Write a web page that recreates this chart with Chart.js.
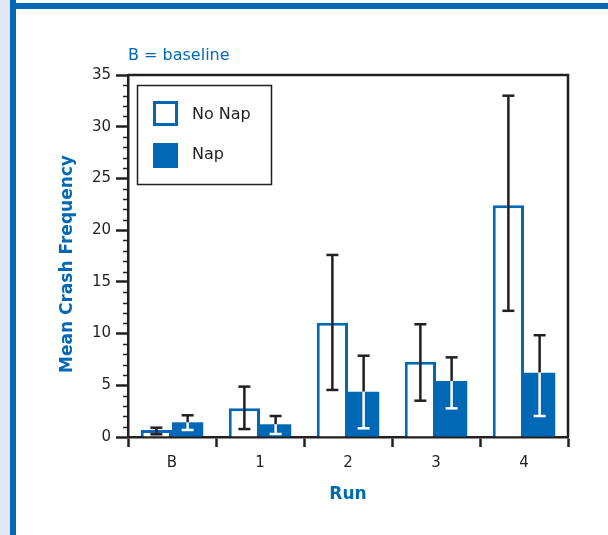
<!DOCTYPE html>
<html>
<head>
<meta charset="utf-8">
<script src="https://cdn.jsdelivr.net/npm/chart.js@4"></script>
<style>
  body { margin: 0; background: #fff; }
  #wrap { width: 608px; height: 535px; }
</style>
</head>
<body>
<div id="wrap"><canvas id="chart" width="608" height="535"></canvas></div>
<script>
// data
const runs = ['B', '1', '2', '3', '4'];
const noNap = [0.68, 2.77, 11.05, 7.28, 22.4];
const noNapLow = [0.26, 0.77, 4.55, 3.51, 12.2];
const noNapHigh = [0.9, 4.87, 17.6, 10.9, 33.0];
const nap = [1.42, 1.23, 4.38, 5.42, 6.22];
const napLow = [0.68, 0.29, 0.84, 2.77, 2.03];
const napHigh = [2.1, 2.03, 7.86, 7.7, 9.84];

const blue = '#0068b5';
const ink = '#231f20';
const font = 'DejaVu Sans';

// frame, error bars, minor ticks, legend box
const extras = {
  id: 'extras',
  beforeDraw(chart) {
    const ctx = chart.ctx;
    ctx.save();
    ctx.fillStyle = '#fff';
    ctx.fillRect(0, 0, 608, 535);
    ctx.fillStyle = '#e1e8f5';
    ctx.fillRect(0, 0, 10, 535);
    ctx.fillStyle = blue;
    ctx.fillRect(10, 0, 6, 535);
    ctx.fillRect(16, 3, 592, 6);
    ctx.restore();
  },
  afterDatasetsDraw(chart) {
    const ctx = chart.ctx;
    const y = chart.scales.y;
    ctx.save();
    ctx.lineWidth = 2.5;
    chart.data.datasets.forEach((ds, i) => {
      const meta = chart.getDatasetMeta(i);
      meta.data.forEach((bar, j) => {
        const x = bar.x;
        const hi = y.getPixelForValue(ds.errHigh[j]);
        const lo = y.getPixelForValue(ds.errLow[j]);
        const inside = v => ds.filled && v <= ds.data[j];
        const split = ds.filled ? Math.max(bar.y, hi) : lo;
        // part above the bar (or whole bar if hollow)
        ctx.strokeStyle = ink;
        ctx.beginPath();
        ctx.moveTo(x, hi);
        ctx.lineTo(x, Math.min(split, lo));
        ctx.stroke();
        if (ds.filled && lo > split) {
          ctx.strokeStyle = '#fff';
          ctx.beginPath();
          ctx.moveTo(x, split);
          ctx.lineTo(x, lo);
          ctx.stroke();
        }
        [[hi, ds.errHigh[j]], [lo, ds.errLow[j]]].forEach(([py, v]) => {
          ctx.strokeStyle = inside(v) ? '#fff' : ink;
          ctx.beginPath();
          ctx.moveTo(x - 6, py);
          ctx.lineTo(x + 6, py);
          ctx.stroke();
        });
      });
    });
    ctx.restore();
  },
  afterDraw(chart) {
    const ctx = chart.ctx;
    const a = chart.chartArea;
    const y = chart.scales.y;
    ctx.save();
    ctx.strokeStyle = ink;
    // minor ticks
    ctx.lineWidth = 1.5;
    for (let v = 1; v < 35; v++) {
      if (v % 5 === 0) continue;
      const py = Math.round(y.getPixelForValue(v)) + 0.5;
      ctx.beginPath();
      ctx.moveTo(a.left - 5, py);
      ctx.lineTo(a.left, py);
      ctx.stroke();
    }
    // top and right frame
    ctx.lineWidth = 2.5;
    ctx.beginPath();
    ctx.moveTo(a.left, a.top);
    ctx.lineTo(a.right, a.top);
    ctx.lineTo(a.right, a.bottom);
    ctx.stroke();
    // legend
    ctx.lineWidth = 1.5;
    ctx.strokeRect(137.5, 85.5, 134, 99);
    ctx.strokeStyle = blue;
    ctx.lineWidth = 3;
    ctx.strokeRect(154.5, 102.5, 22, 22);
    ctx.fillStyle = blue;
    ctx.fillRect(153, 143, 25, 25);
    ctx.fillStyle = ink;
    ctx.font = '16px "' + font + '"';
    ctx.textBaseline = 'middle';
    ctx.fillText(chart.data.datasets[0].label, 192, 115);
    ctx.fillText(chart.data.datasets[1].label, 192, 155);
    // note
    ctx.fillStyle = blue;
    ctx.fillText('B = baseline', 128, 56);
    // y axis title, sits a little below the middle of the axis
    ctx.font = 'bold 17px "' + font + '"';
    ctx.textAlign = 'center';
    ctx.translate(68, 264);
    ctx.rotate(-Math.PI / 2);
    ctx.fillText('Mean Crash Frequency', 0, 0);
    ctx.restore();
  }
};

new Chart(document.getElementById('chart'), {
  type: 'bar',
  data: {
    labels: runs,
    datasets: [
      {
        label: 'No Nap',
        data: noNap,
        errLow: noNapLow,
        errHigh: noNapHigh,
        filled: false,
        backgroundColor: '#fff',
        borderColor: blue,
        borderWidth: 3,
        categoryPercentage: 0.71,
        barPercentage: 1
      },
      {
        label: 'Nap',
        data: nap,
        errLow: napLow,
        errHigh: napHigh,
        filled: true,
        backgroundColor: blue,
        borderWidth: 0,
        categoryPercentage: 0.71,
        barPercentage: 1
      }
    ]
  },
  options: {
    responsive: false,
    animation: false,
    layout: { padding: { top: 75, right: 40, left: 0, bottom: 0 } },
    plugins: { legend: { display: false }, tooltip: { enabled: false } },
    scales: {
      x: {
        afterFit(s) { s.height = 98; },
        grid: { drawOnChartArea: false, offset: true, tickLength: 10, tickWidth: 2.5, tickColor: ink },
        border: { color: ink, width: 2.5 },
        ticks: { color: ink, padding: 7, font: { family: font, size: 15 } },
        title: {
          display: true, text: 'Run', color: blue,
          font: { family: font, size: 17, weight: 'bold' },
          padding: { top: 0, bottom: 30 }
        }
      },
      y: {
        min: 0,
        max: 35,
        afterFit(s) { s.width = 128; },
        grid: { drawOnChartArea: false, tickLength: 12, tickWidth: 2.5, tickColor: ink },
        border: { color: ink, width: 2.5 },
        ticks: { stepSize: 5, color: ink, padding: 5, font: { family: font, size: 15 } }
      }
    }
  },
  plugins: [extras]
});
</script>
</body>
</html>
